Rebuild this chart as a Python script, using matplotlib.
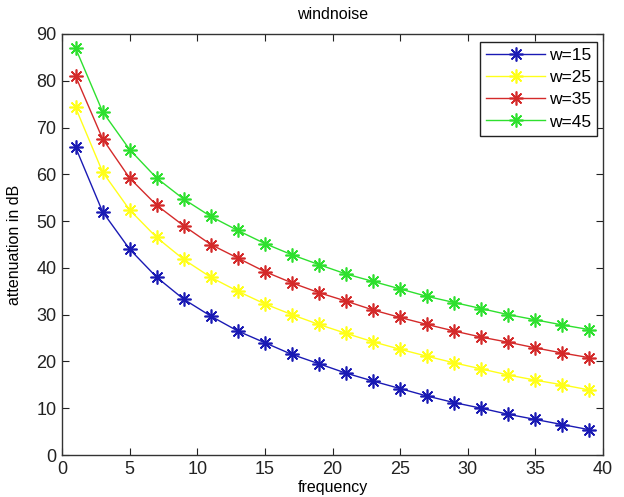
import matplotlib
matplotlib.use("Agg")
import matplotlib.pyplot as plt
import numpy as np

plt.rcParams['font.family'] = ['Liberation Sans Narrow', 'Liberation Sans', 'DejaVu Sans']

# data
freq = [1, 3, 5, 7, 9, 11, 13, 15, 17, 19, 21, 23, 25, 27, 29, 31, 33, 35, 37, 39]
w15 = [65.8, 52.0, 44.0, 38.0, 33.3, 29.7, 26.5, 24.0, 21.5, 19.5,
       17.5, 15.8, 14.2, 12.6, 11.2, 10.0, 8.7, 7.6, 6.5, 5.4]
w25 = [74.3, 60.5, 52.4, 46.5, 41.8, 38.0, 35.0, 32.3, 30.0, 27.9,
       26.0, 24.2, 22.6, 21.1, 19.7, 18.4, 17.1, 16.0, 15.0, 13.9]
w35 = [81.0, 67.6, 59.2, 53.4, 49.0, 45.0, 42.1, 39.2, 36.8, 34.7,
       32.9, 31.0, 29.4, 27.9, 26.5, 25.2, 24.1, 22.9, 21.8, 20.8]
w45 = [87.0, 73.4, 65.3, 59.2, 54.7, 51.0, 48.0, 45.2, 42.8, 40.7,
       38.7, 37.1, 35.5, 33.9, 32.6, 31.3, 30.0, 28.9, 27.8, 26.8]
labels = ['w=15', 'w=25', 'w=35', 'w=45']
colors = ['#1a1ab4', '#ffff1a', '#d42a2a', '#2ee02e']

# matlab style asterisk: 8 spokes
star = (8, 2, 0)

fig = plt.figure(figsize=(6.24, 4.97), dpi=100)
ax = fig.add_axes([62/624, 42/497, 541/624, 421/497])

for ys, lab, c in zip([w15, w25, w35, w45], labels, colors):
    ax.plot(freq, ys, '-', marker=star, color=c, label=lab, linewidth=1.0,
            markersize=10, markeredgewidth=1.2)

ax.set_xlim(0, 40)
ax.set_ylim(0, 90)
ax.set_xticks(np.arange(0, 41, 5))
ax.set_yticks(np.arange(0, 91, 10))
ax.tick_params(direction='in', top=True, right=True, labelsize=13,
               length=5, width=0.8, colors='#222222', pad=4)
for s in ax.spines.values():
    s.set_color('#333333')
    s.set_linewidth(1.0)

ax.set_title('windnoise', fontsize=11.5, pad=11)
ax.set_xlabel('frequency', fontsize=11.5, labelpad=2)
ax.set_ylabel('attenuation in dB', fontsize=11.5, labelpad=10)

leg = ax.legend(loc='upper right', bbox_to_anchor=(597/624, 1 - 42/497),
                bbox_transform=fig.transFigure, fontsize=12.5, fancybox=False,
                framealpha=1, edgecolor='#222222', borderpad=0.35,
                handlelength=3.4, handletextpad=0.2, labelspacing=0.4,
                borderaxespad=0)
leg.get_frame().set_linewidth(1.0)

fig.savefig('out.png', dpi=100)
